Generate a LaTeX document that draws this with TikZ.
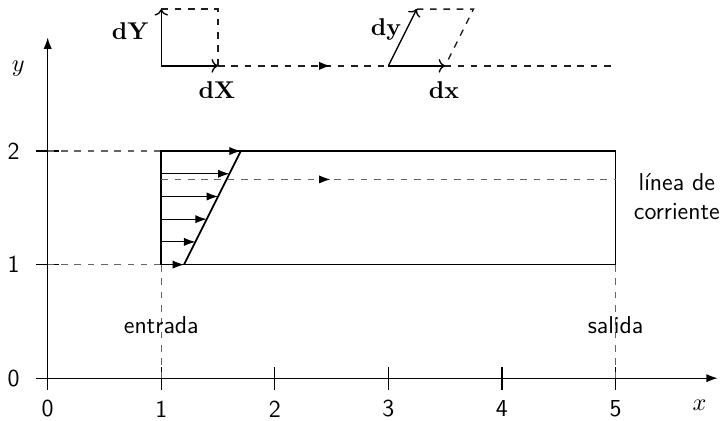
\documentclass[tikz,border=0pt]{standalone}
\usepackage{amsmath}
\usepackage{tikz}
\usetikzlibrary{arrows.meta}
\definecolor{guidegray} {RGB}{100, 100, 100}
\definecolor{flowdark}  {RGB}{ 30,  30,  30}

\begin{document}
\begin{tikzpicture}[x=1.8cm,y=1.8cm,font=\sffamily\fontsize{11}{13}\selectfont,semithick,
		guide/.style={guidegray,dashed},
		cell/.style={flowdark,dashed},
		vel/.style={-{Latex[length=1.8mm,width=1.3mm]}}]
	\useasboundingbox (-0.42,-0.37) rectangle (5.92,3.33);
	% ejes
	\draw[vel] (-0.1,0) -- (5.9,0);
	\draw[vel] (0,-0.1) -- (0,3);
	\foreach \i in {0,...,5}{\draw (\i,-0.1)--(\i,0.1); \node at (\i,-0.27) {\i};}
	\foreach \j in {0,1,2}{\node at (-0.3,\j) {\j};}
	\foreach \j in {1,2}{\draw (-0.1,\j)--(0.1,\j); \draw[guide] (0,\j)--(1,\j);}
	\node at (5.74,-0.24) {$x$};
	\node at (-0.26,2.73) {$y$};
	% canal
	\draw[guide] (1,0)--(1,1);
	\draw[guide] (5,0)--(5,1);
	\node at (1,0.47) {entrada};
	\node at (5,0.47) {salida};
	\draw[thick] (1,1) rectangle (5,2);
	\draw[thick] (1.2,1)--(1.7,2);
	\foreach \k in {0,...,5}{\draw[vel,thin] (1,1+0.2*\k) -- (1.2+0.1*\k,1+0.2*\k);}
	\draw[guide] (1,1.75)--(5,1.75);
	\draw[vel] (2.44,1.75)--(2.49,1.75);
	\node[align=center] at (5.54,1.6) {línea de\\corriente};
	% elemento de fluido
	\coordinate (O1) at (1,2.75);
	\coordinate (O2) at (3,2.75);
	\draw[cell] (1.5,2.75)--(5,2.75);
	\draw[vel] (2.44,2.75)--(2.49,2.75);
	\draw[cell] (1,3.25)--(1.5,3.25)--(1.5,2.75);
	\draw[cell] (3.25,3.25)--(3.75,3.25)--(3.5,2.75);
	\draw[->] (O1) -- ++(0.5,0);
	\draw[->] (O1) -- ++(0,0.5);
	\draw[->] (O2) -- ++(0.5,0);
	\draw[->] (O2) -- ++(0.25,0.5);
	\node at (1.49,2.54) {$\mathbf{dX}$};
	\node at (0.73,3.06) {$\mathbf{dY}$};
	\node at (3.49,2.54) {$\mathbf{dx}$};
	\node at (2.98,3.07) {$\mathbf{dy}$};
\end{tikzpicture}
\end{document}
